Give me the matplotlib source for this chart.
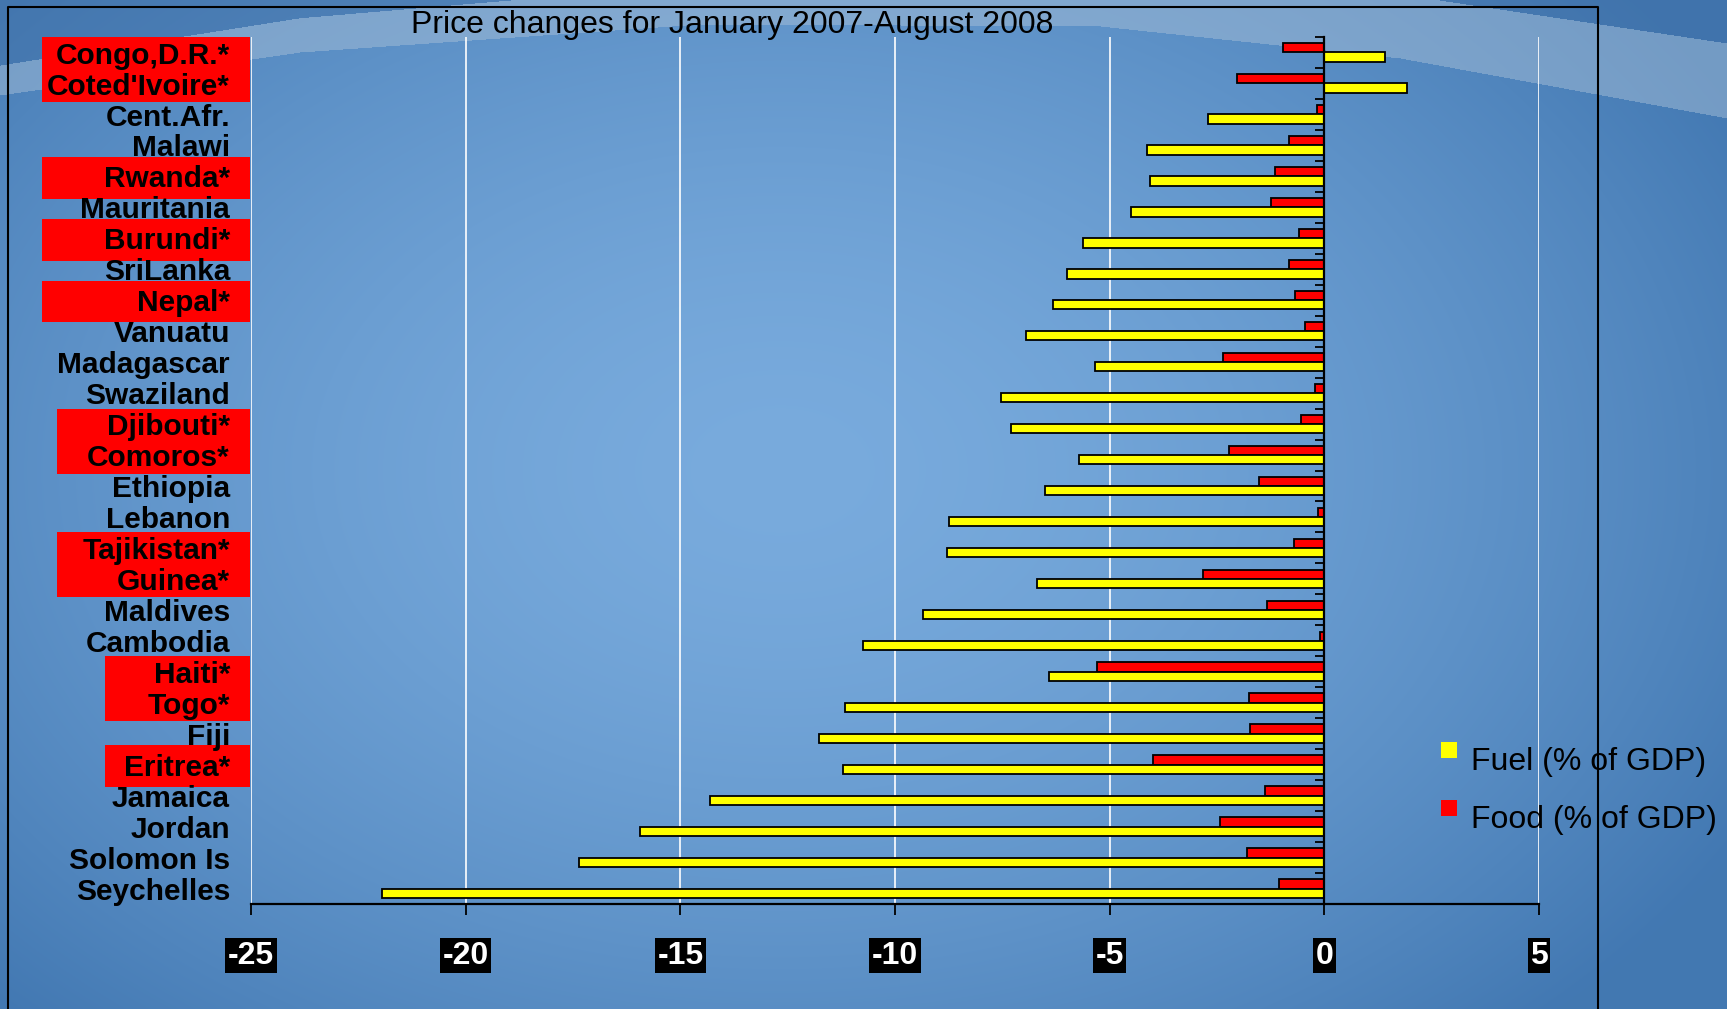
import numpy as np
import matplotlib.pyplot as plt
from matplotlib import transforms
from matplotlib.patches import Rectangle
from matplotlib.lines import Line2D

# data (top to bottom)
countries = ["Congo,D.R.*", "Coted'Ivoire*", "Cent.Afr.", "Malawi", "Rwanda*",
             "Mauritania", "Burundi*", "SriLanka", "Nepal*", "Vanuatu",
             "Madagascar", "Swaziland", "Djibouti*", "Comoros*", "Ethiopia",
             "Lebanon", "Tajikistan*", "Guinea*", "Maldives", "Cambodia",
             "Haiti*", "Togo*", "Fiji", "Eritrea*", "Jamaica", "Jordan",
             "Solomon Is", "Seychelles"]
fuel = [1.41, 1.93, -2.70, -4.14, -4.05, -4.51, -5.62, -6.00, -6.31, -6.94,
        -5.35, -7.54, -7.30, -5.72, -6.51, -8.75, -8.79, -6.69, -9.35, -10.74,
        -6.42, -11.16, -11.78, -11.21, -14.32, -15.93, -17.37, -21.94]
food = [-0.97, -2.04, -0.18, -0.83, -1.16, -1.25, -0.60, -0.83, -0.69, -0.46,
        -2.36, -0.21, -0.54, -2.23, -1.52, -0.15, -0.70, -2.83, -1.34, -0.10,
        -5.30, -1.76, -1.72, -4.00, -1.39, -2.42, -1.80, -1.06]
xticks = [-25, -20, -15, -10, -5, 0, 5]
title = "Price changes for January 2007-August 2008"
legend_labels = ["Fuel (% of GDP)", "Food (% of GDP)"]

plt.rcParams['font.family'] = ['Liberation Sans', 'DejaVu Sans']

W, H = 1727, 1009
fig = plt.figure(figsize=(W / 100, H / 100), dpi=100)

# background gradient with the light swoosh arc at the top
yy, xx = np.mgrid[0:H, 0:W]
d = np.sqrt(((xx - 780) / 1100) ** 2 + ((yy - 470) / 760) ** 2)
t = np.clip(d, 0, 1) ** 1.6
light = np.array([121, 171, 221]) / 255
dark = np.array([66, 120, 178]) / 255
img = light * (1 - t[..., None]) + dark * t[..., None]
xs = xx[0]
lower = np.interp(xs, [0, 300, 700, 1100, 1400, 1727], [95, 52, 24, 26, 58, 118])
thick = np.interp(xs, [0, 700, 1727], [30, 40, 75])
upper = lower - thick
band = (yy < lower[None, :]) & (yy > upper[None, :])
above = yy <= upper[None, :]
img[band] = img[band] * 0.5 + np.array([165, 190, 215]) / 255 * 0.5
img[above] = img[above] * 0.55 + np.array([62, 110, 165]) / 255 * 0.45
bg = fig.add_axes([0, 0, 1, 1])
bg.imshow(img, aspect='auto', interpolation='bilinear')
bg.axis('off')

# outer frame
fig.add_artist(Line2D([8 / W, 8 / W, 1598 / W, 1598 / W], [0, 1 - 7 / H, 1 - 7 / H, 0],
                      transform=fig.transFigure, color='black', lw=1.5))

ax = fig.add_axes([251 / W, 1 - 904 / H, 1288 / W, 867 / H])
ax.set_facecolor('none')

n = len(countries)
y = np.arange(n)
h = 0.3
ax.barh(y - h / 2, food, height=h, color='#FF0000', edgecolor='black', lw=1.3)
ax.barh(y + h / 2, fuel, height=h, color='#FFFF00', edgecolor='black', lw=1.3)
ax.set_ylim(n - 0.5, -0.5)
ax.set_xlim(-25, 5)

for s in ['top', 'right']:
    ax.spines[s].set_visible(False)
ax.spines['left'].set_position(('data', 0))
ax.spines['left'].set_linewidth(1.6)
ax.spines['bottom'].set_linewidth(1.6)

ax.set_yticks([])
ax.set_yticks(np.arange(n + 1) - 0.5, minor=True)
ax.tick_params(axis='y', which='minor', length=6.5, width=1.3, direction='out')
ax.set_xticks(xticks)
ax.set_xticklabels([])
ax.tick_params(axis='x', length=7.7, width=1.3, direction='out')
ax.grid(axis='x', color='white', lw=1.2)
ax.set_axisbelow(True)

# category labels with red highlight boxes for starred countries
trans = transforms.blended_transform_factory(ax.transAxes, ax.transData)
x_lab = (230 - 251) / 1288
for i, name in enumerate(countries):
    ax.text(x_lab, i + 0.1, name, transform=trans, ha='right', va='center',
            fontsize=21.5, fontweight='bold', zorder=6, clip_on=False)

groups = []
for i, name in enumerate(countries):
    if name.endswith('*'):
        if groups and groups[-1][-1] == i - 1:
            groups[-1].append(i)
        else:
            groups.append([i])
box_left_px = [42, 42, 42, 42, 57, 57, 105, 105]
for g, left in zip(groups, box_left_px):
    pad = 0.17 if len(g) == 1 else 0.05
    x0 = (left - 251) / 1288
    ax.add_patch(Rectangle((x0, g[0] - 0.5 - pad + 0.05), -1 / 1288 - x0, len(g) + 2 * pad,
                           transform=trans, fc='#FF0000', ec='none', zorder=5, clip_on=False))

# x tick labels: white on black
tx = transforms.blended_transform_factory(ax.transData, ax.transAxes)
for v in xticks:
    ax.text(v, -0.0595, str(v), transform=tx, ha='center', va='center', color='white',
            fontsize=23, fontweight='bold', clip_on=False,
            bbox=dict(boxstyle='square,pad=0.08', fc='black', ec='none'))

fig.text(732 / W, 1 - 25 / H, title, ha='center', va='center', fontsize=23)

# legend
for k, (lab, col) in enumerate(zip(legend_labels, ['#FFFF00', '#FF0000'])):
    top = 742 + k * 58
    fig.add_artist(Rectangle((1441 / W, 1 - (top + 16) / H), 16 / W, 16 / H,
                             transform=fig.transFigure, fc=col, ec='none'))
    fig.text(1471 / W, 1 - (top + 20) / H, lab, ha='left', va='center', fontsize=23)

fig.savefig('out.png', dpi=100)
